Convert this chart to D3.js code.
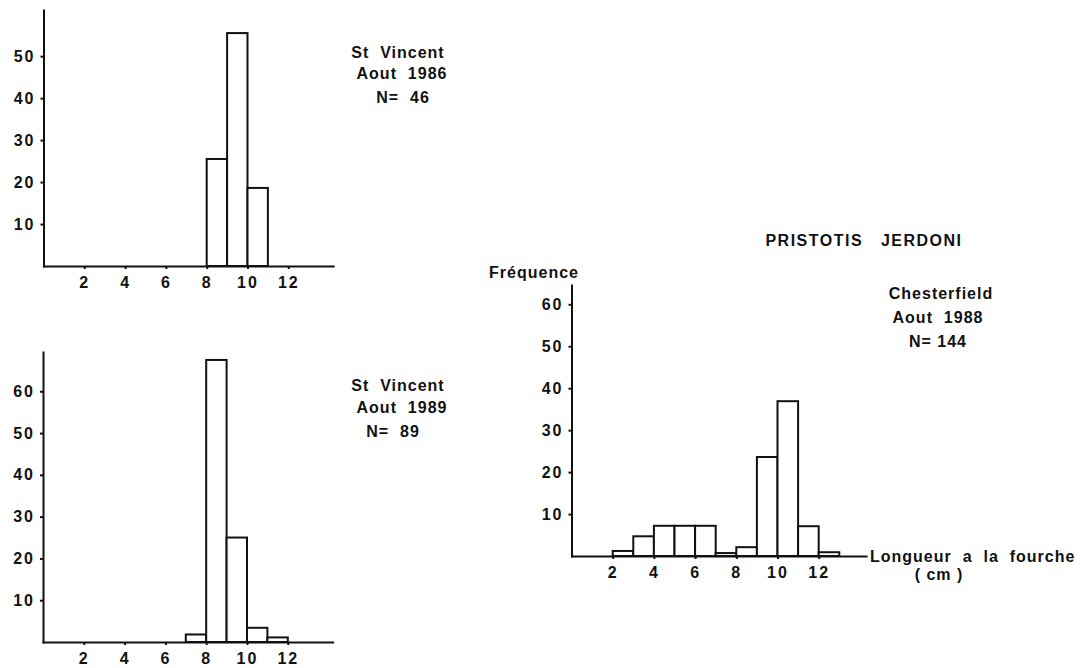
<!DOCTYPE html>
<html lang="fr">
<head>
<meta charset="utf-8">
<title>Pristotis jerdoni</title>
<script src="https://d3js.org/d3.v7.min.js"></script>
<style>
  body { margin: 0; background: #fff; }
  svg { display: block; }
  text { font-family: "Liberation Sans", Arial, sans-serif; font-weight: bold; fill: #111; }
  .axis path, .axis line { stroke: #111; stroke-width: 2; fill: none; }
  .axis text { font-size: 16px; letter-spacing: 2px; }
  .bar { fill: #fff; stroke: #111; stroke-width: 2; }
  .lbl { font-size: 16px; letter-spacing: 1px; white-space: pre; }
</style>
</head>
<body>
<div id="viz"></div>
<script>
// length classes (cm, lower bound) and frequency (%)
var binsVincent86 = [8, 9, 10];
var freqVincent86 = [25.5, 55.5, 18.6];

var binsVincent89 = [7, 8, 9, 10, 11];
var freqVincent89 = [1.8, 67.5, 25, 3.4, 1.1];

var binsChesterfield = [2, 3, 4, 5, 6, 7, 8, 9, 10, 11, 12];
var freqChesterfield = [1.2, 4.7, 7.2, 7.2, 7.2, 0.7, 2.1, 23.6, 36.9, 7.1, 0.9];

var xTicks = [2, 4, 6, 8, 10, 12];
var yTicks86 = [10, 20, 30, 40, 50];
var yTicks = [10, 20, 30, 40, 50, 60];

var svg = d3.select("#viz").append("svg")
  .attr("width", 1085)
  .attr("height", 668);

function histo(opt) {
  var x = d3.scaleLinear().domain([0, opt.xMax]).range([opt.left, opt.left + opt.xMax * opt.unitX]);
  var y = d3.scaleLinear().domain([0, opt.yMax]).range([opt.base, opt.top]);
  var g = svg.append("g");

  g.selectAll(".bar")
    .data(opt.bins.map(function(b, i) { return {b: b, v: opt.freq[i]}; }))
    .enter().append("rect")
    .attr("class", "bar")
    .attr("x", function(d) { return x(d.b); })
    .attr("width", function(d) { return x(d.b + 1) - x(d.b); })
    .attr("y", function(d) { return y(d.v); })
    .attr("height", function(d) { return y(0) - y(d.v); });

  g.append("g")
    .attr("class", "axis")
    .attr("transform", "translate(0," + opt.base + ")")
    .call(d3.axisBottom(x).tickValues(xTicks).tickSize(3).tickSizeOuter(0).tickPadding(8));

  g.append("g")
    .attr("class", "axis")
    .attr("transform", "translate(" + opt.left + ",0)")
    .call(d3.axisLeft(y).tickValues(opt.yTicks).tickSize(3).tickSizeOuter(0).tickPadding(5));

  g.selectAll(".domain").attr("stroke-linecap", "square");
  return g;
}

histo({bins: binsVincent86, freq: freqVincent86, yTicks: yTicks86,
  left: 43.5, unitX: 20.4, xMax: 14.2, base: 266, top: 10, yMax: 61});
histo({bins: binsVincent89, freq: freqVincent89, yTicks: yTicks,
  left: 43, unitX: 20.4, xMax: 14.2, base: 642, top: 352, yMax: 69.4});
histo({bins: binsChesterfield, freq: freqChesterfield, yTicks: yTicks,
  left: 571.5, unitX: 20.6, xMax: 14.3, base: 556, top: 285, yMax: 64.6});

function label(x, y, s, anchor, spacing) {
  svg.append("text").attr("class", "lbl")
    .attr("x", x).attr("y", y)
    .attr("text-anchor", anchor || "middle")
    .style("letter-spacing", spacing ? spacing + "px" : null)
    .text(s);
}

label(398, 58, "St  Vincent");
label(402, 79, "Aout  1986");
label(403, 103, "N=  46");

label(398, 391, "St  Vincent");
label(402, 413, "Aout  1989");
label(393, 437, "N=  89");

label(864, 246, "PRISTOTIS   JERDONI", "middle", 1.5);
label(941, 299, "Chesterfield");
label(938, 323, "Aout  1988");
label(938, 347, "N= 144");
label(534, 278, "Fréquence");
label(870, 562, "Longueur  a  la  fourche", "start");
label(939, 580, "( cm )");
</script>
</body>
</html>
